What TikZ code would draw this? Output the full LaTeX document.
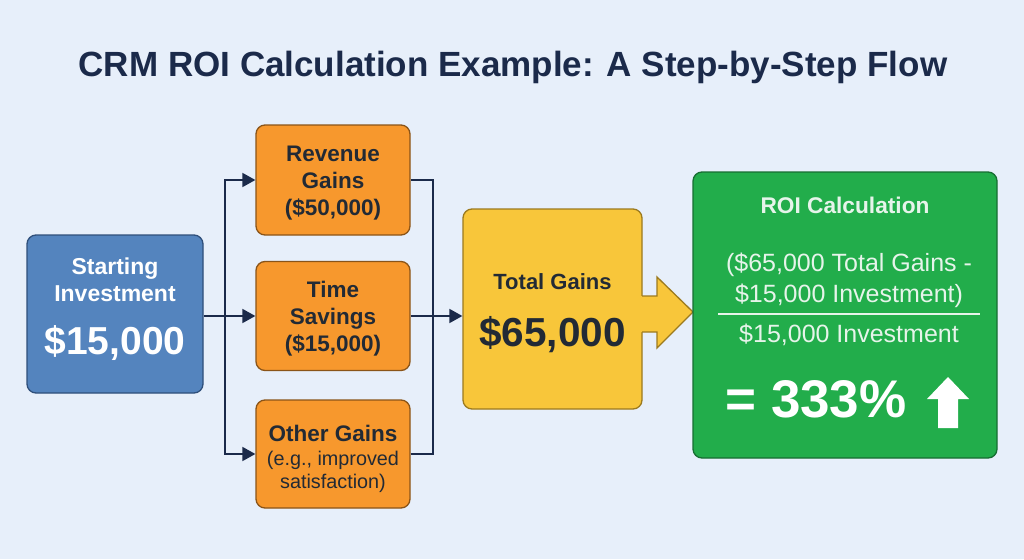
\documentclass[tikz,border=0pt]{standalone}
\usepackage{fontspec}
\setmainfont{Liberation Sans}
\usetikzlibrary{arrows.meta,positioning,calc}

\definecolor{bgblue}{HTML}{E7EFFA}
\definecolor{navy}{HTML}{1B2A4A}
\definecolor{investblue}{HTML}{5484BE}
\definecolor{investedge}{HTML}{2F4F7A}
\definecolor{gainorange}{HTML}{F7982D}
\definecolor{orangeedge}{HTML}{8A5418}
\definecolor{totalyellow}{HTML}{F8C63A}
\definecolor{yellowedge}{HTML}{9C7A1E}
\definecolor{roigreen}{HTML}{22AD4B}
\definecolor{greenedge}{HTML}{176E32}
\definecolor{paletext}{HTML}{E6F4EA}
\definecolor{inkdark}{HTML}{222A35}

\newcommand{\fs}[2]{\fontsize{#1}{#2}\selectfont}

\tikzset{
  box/.style={rounded corners=9pt, line width=1.3pt, inner sep=0pt},
  gainbox/.style={box, fill=gainorange, draw=orangeedge, minimum width=154pt,
    text=inkdark, align=center, font=\fs{22.5}{27}\bfseries},
  link/.style={navy, line width=1.8pt},
  flowtip/.style={-{Triangle[length=13pt,width=14pt]}},
  lbl/.style={anchor=base, inner sep=0pt}
}

\begin{document}
\begin{tikzpicture}[x=1pt,y=-1pt]
	\fill[bgblue] (0,0) rectangle (1024,559);
	\useasboundingbox (0,0) rectangle (1024,559);
	
	% title
	\node[lbl, text=navy, font=\fs{35}{40}\bfseries] (heading) at (513,77)
		{CRM ROI Calculation Example: A Step-by-Step Flow};
	
	% starting investment
	\node[box, fill=investblue, draw=investedge, minimum width=176pt, minimum height=158pt] (invest) at (115,314) {};
	\node[lbl, text=white, font=\fs{23}{27}\bfseries] (investA) at (115,274) {Starting};
	\node[lbl, text=white, font=\fs{23}{27}\bfseries] (investB) at (115,301) {Investment};
	\node[lbl, text=white, font=\fs{39}{44}\bfseries] (investC) at (115,354) {\$15,000};
	
	% gains
	\node[gainbox, minimum height=110pt] (revenue) at (333,180) {\rule{0pt}{21pt}Revenue\\Gains\\(\$50,000)};
	\node[gainbox, minimum height=109pt] (time) at (333,316) {\rule{0pt}{21pt}Time\\Savings\\(\$15,000)};
	\node[gainbox, minimum height=108pt] (other) at (333,454)
		{\rule{0pt}{26pt}Other Gains\\[-3pt]{\fs{19.8}{24}\mdseries (e.g., improved}\\[-4pt]{\fs{19.8}{24}\mdseries satisfaction)}};
	
	% total gains
	\node[box, fill=totalyellow, draw=yellowedge, minimum width=179pt, minimum height=200pt] (total) at (552.5,309) {};
	\node[lbl, text=inkdark, font=\fs{22}{26}\bfseries] (totalA) at (552.5,289) {Total Gains};
	\node[lbl, text=inkdark, font=\fs{40.5}{46}\bfseries] (totalB) at (552.5,346) {\$65,000};
	
	% fat arrow
	\fill[totalyellow] (636,296) -- (657,296) -- (657,277) -- (693,312) -- (657,348) -- (657,332) -- (636,332) -- cycle;
	\draw[yellowedge, line width=1.3pt] (642,296) -- (657,296) -- (657,277) -- (693,312) -- (657,348) -- (657,332) -- (642,332);
	
	% roi calculation
	\node[box, fill=roigreen, draw=greenedge, minimum width=304pt, minimum height=286pt] (roi) at (845,315) {};
	\node[lbl, text=paletext, font=\fs{22.7}{27}\bfseries] (roiA) at (845,213) {ROI Calculation};
	\node[lbl, text=paletext, font=\fs{25}{30}] (roiB) at (849,271) {(\$65,000 Total Gains -};
	\node[lbl, text=paletext, font=\fs{25}{30}] (roiC) at (849,302) {\$15,000 Investment)};
	\draw[paletext, line width=1.5pt] (718,314) -- (980,314);
	\node[lbl, text=paletext, font=\fs{25}{30}] (roiD) at (849,342) {\$15,000 Investment};
	\node[lbl, text=white, font=\fs{53}{60}\bfseries] (roiE) at (816,417) {= 333\%};
	\fill[white] (938,428) -- (938,399) -- (927,399) -- (948,377) -- (969,399) -- (958,399) -- (958,428) -- cycle;
	
	% connectors
	\coordinate (split) at (225,316);
	\coordinate (join) at (433,316);
	\draw[link] (invest.east |- split) -- (split);
	\draw[link, flowtip] (split) |- (revenue.west);
	\draw[link, flowtip] (split) -- (time.west);
	\draw[link, flowtip] (split) |- (other.west);
	\draw[link] (revenue.east) -| (join);
	\draw[link] (other.east) -| (join);
	\draw[link] (time.east) -- (join);
	\draw[link, flowtip] (join) -- (join -| total.west);
\end{tikzpicture}
\end{document}
